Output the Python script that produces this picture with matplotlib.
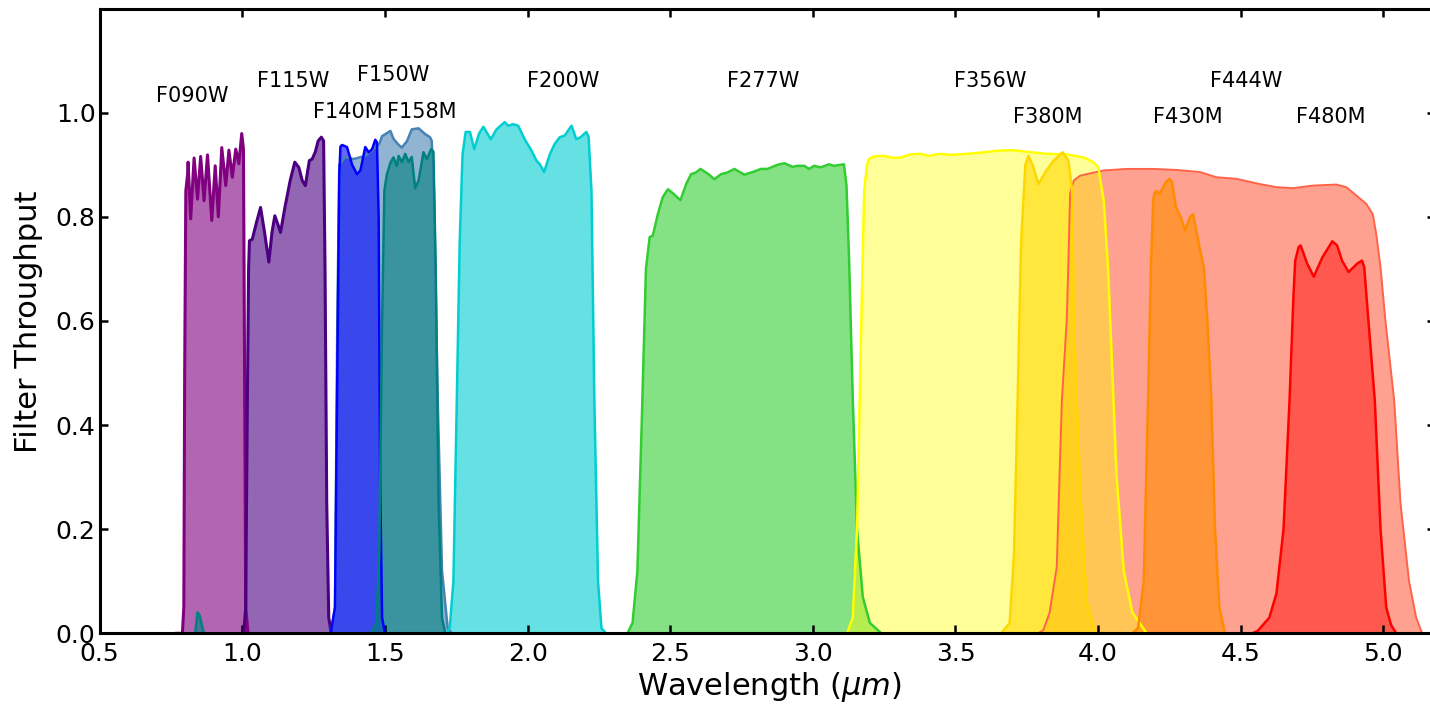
import matplotlib
matplotlib.use('Agg')
import matplotlib.pyplot as plt

# NIRCam filter throughput curves (wavelength in micron, throughput)
f090w_wl = [0.770, 0.790, 0.795, 0.798, 0.802, 0.808, 0.810, 0.819, 0.831, 0.843, 0.854, 0.866, 0.878,
            0.893, 0.905, 0.916, 0.928, 0.942, 0.953, 0.965, 0.977, 0.988, 0.998, 1.004, 1.008, 1.012, 1.020]
f090w_tp = [0.0, 0.0, 0.05, 0.50, 0.85, 0.88, 0.905, 0.796, 0.913, 0.834, 0.916, 0.831, 0.919,
            0.793, 0.898, 0.800, 0.933, 0.860, 0.928, 0.876, 0.930, 0.902, 0.960, 0.930, 0.500, 0.050, 0.0]

f115w_wl = [1.005, 1.012, 1.017, 1.022, 1.025, 1.035, 1.050, 1.064, 1.078, 1.093, 1.104, 1.114, 1.125,
            1.134, 1.150, 1.168, 1.184, 1.198, 1.210, 1.221, 1.235, 1.245, 1.256, 1.266, 1.277, 1.285,
            1.290, 1.296, 1.303, 1.312]
f115w_tp = [0.0, 0.05, 0.40, 0.70, 0.754, 0.757, 0.790, 0.818, 0.770, 0.713, 0.770, 0.802, 0.785,
            0.770, 0.820, 0.870, 0.905, 0.895, 0.870, 0.860, 0.908, 0.911, 0.925, 0.946, 0.953, 0.946,
            0.700, 0.250, 0.030, 0.0]

f150w_wl = [1.310, 1.325, 1.333, 1.340, 1.360, 1.390, 1.431, 1.460, 1.480, 1.490, 1.505, 1.519, 1.530,
            1.545, 1.559, 1.577, 1.594, 1.618, 1.641, 1.658, 1.664, 1.672, 1.685, 1.700, 1.720, 1.735]
f150w_tp = [0.0, 0.05, 0.60, 0.90, 0.915, 0.911, 0.917, 0.930, 0.940, 0.955, 0.960, 0.965, 0.950,
            0.940, 0.933, 0.945, 0.968, 0.970, 0.959, 0.953, 0.946, 0.850, 0.450, 0.120, 0.010, 0.0]

f140m_wl = [1.310, 1.325, 1.333, 1.340, 1.344, 1.350, 1.367, 1.385, 1.402, 1.414, 1.431, 1.443, 1.455,
            1.466, 1.472, 1.478, 1.483, 1.490, 1.500]
f140m_tp = [0.0, 0.05, 0.50, 0.88, 0.935, 0.938, 0.934, 0.900, 0.882, 0.889, 0.934, 0.924, 0.930,
            0.948, 0.943, 0.800, 0.300, 0.030, 0.0]

f158m_wl = [0.820, 0.835, 0.843, 0.850, 0.865, 1.450, 1.470, 1.480, 1.490, 1.498, 1.507, 1.520, 1.530,
            1.542, 1.548, 1.560, 1.571, 1.583, 1.594, 1.606, 1.618, 1.635, 1.647, 1.662, 1.670, 1.678,
            1.688, 1.700, 1.712]
f158m_tp = [0.0, 0.0, 0.040, 0.035, 0.0, 0.0, 0.020, 0.150, 0.600, 0.850, 0.882, 0.905, 0.914,
            0.898, 0.917, 0.905, 0.921, 0.905, 0.915, 0.855, 0.870, 0.924, 0.911, 0.930, 0.925, 0.700,
            0.250, 0.030, 0.0]

f200w_wl = [1.715, 1.727, 1.740, 1.752, 1.762, 1.772, 1.783, 1.798, 1.813, 1.830, 1.845, 1.871, 1.891,
            1.920, 1.932, 1.950, 1.967, 1.990, 2.014, 2.031, 2.043, 2.058, 2.078, 2.095, 2.113, 2.130,
            2.154, 2.171, 2.186, 2.206, 2.214, 2.224, 2.234, 2.247, 2.259, 2.275]
f200w_tp = [0.0, 0.010, 0.100, 0.450, 0.750, 0.920, 0.963, 0.963, 0.930, 0.960, 0.973, 0.949, 0.968,
            0.982, 0.975, 0.978, 0.975, 0.949, 0.927, 0.908, 0.901, 0.886, 0.920, 0.940, 0.953, 0.956,
            0.975, 0.949, 0.953, 0.963, 0.953, 0.850, 0.450, 0.100, 0.010, 0.0]

f277w_wl = [2.350, 2.368, 2.385, 2.400, 2.415, 2.428, 2.439, 2.457, 2.474, 2.492, 2.510, 2.536, 2.556,
            2.573, 2.590, 2.606, 2.634, 2.655, 2.678, 2.700, 2.725, 2.760, 2.789, 2.818, 2.841, 2.876,
            2.900, 2.929, 2.946, 2.970, 2.987, 3.004, 3.028, 3.057, 3.074, 3.098, 3.109, 3.118, 3.127,
            3.140, 3.155, 3.175, 3.200, 3.240]
f277w_tp = [0.0, 0.020, 0.120, 0.400, 0.700, 0.761, 0.764, 0.806, 0.838, 0.853, 0.845, 0.832, 0.863,
            0.882, 0.885, 0.892, 0.882, 0.872, 0.882, 0.885, 0.892, 0.881, 0.886, 0.892, 0.892, 0.900,
            0.903, 0.896, 0.898, 0.898, 0.892, 0.898, 0.895, 0.901, 0.898, 0.900, 0.901, 0.860, 0.720,
            0.450, 0.200, 0.070, 0.020, 0.0]

f356w_wl = [3.120, 3.140, 3.155, 3.168, 3.180, 3.190, 3.197, 3.214, 3.249, 3.284, 3.308, 3.343, 3.378,
            3.407, 3.442, 3.483, 3.541, 3.599, 3.646, 3.704, 3.750, 3.820, 3.890, 3.949, 3.983, 4.001,
            4.020, 4.035, 4.050, 4.065, 4.090, 4.120, 4.170]
f356w_tp = [0.0, 0.030, 0.200, 0.550, 0.850, 0.900, 0.911, 0.916, 0.917, 0.913, 0.914, 0.920, 0.921,
            0.917, 0.921, 0.919, 0.921, 0.924, 0.927, 0.928, 0.925, 0.921, 0.920, 0.914, 0.905, 0.895,
            0.830, 0.700, 0.500, 0.300, 0.120, 0.040, 0.0]

f380m_wl = [3.660, 3.690, 3.705, 3.718, 3.730, 3.745, 3.756, 3.770, 3.791, 3.815, 3.844, 3.876, 3.896,
            3.909, 3.915, 3.925, 3.940, 3.960, 3.990]
f380m_tp = [0.0, 0.020, 0.150, 0.450, 0.750, 0.900, 0.917, 0.900, 0.863, 0.886, 0.908, 0.924, 0.908,
            0.850, 0.600, 0.450, 0.250, 0.060, 0.0]

f444w_wl = [3.790, 3.808, 3.830, 3.855, 3.873, 3.890, 3.896, 3.902, 3.915, 3.937, 3.960, 4.018, 4.100,
            4.193, 4.275, 4.357, 4.415, 4.485, 4.566, 4.625, 4.683, 4.753, 4.835, 4.870, 4.905, 4.940,
            4.963, 4.975, 4.990, 5.007, 5.038, 5.060, 5.090, 5.115, 5.136]
f444w_tp = [0.0, 0.006, 0.040, 0.127, 0.447, 0.601, 0.716, 0.845, 0.870, 0.879, 0.882, 0.889, 0.892,
            0.892, 0.890, 0.886, 0.876, 0.873, 0.863, 0.857, 0.855, 0.860, 0.862, 0.857, 0.841, 0.825,
            0.805, 0.767, 0.703, 0.601, 0.447, 0.250, 0.100, 0.030, 0.0]

f430m_wl = [4.120, 4.140, 4.160, 4.175, 4.185, 4.193, 4.197, 4.204, 4.215, 4.238, 4.250, 4.259, 4.273,
            4.290, 4.305, 4.322, 4.333, 4.344, 4.360, 4.371, 4.377, 4.383, 4.397, 4.410, 4.425, 4.445]
f430m_tp = [0.0, 0.010, 0.100, 0.447, 0.700, 0.830, 0.844, 0.850, 0.844, 0.867, 0.873, 0.867, 0.818,
            0.799, 0.774, 0.799, 0.805, 0.774, 0.729, 0.703, 0.652, 0.601, 0.447, 0.200, 0.050, 0.0]

f480m_wl = [4.540, 4.560, 4.600, 4.625, 4.650, 4.671, 4.685, 4.691, 4.703, 4.710, 4.733, 4.756, 4.786,
            4.821, 4.838, 4.855, 4.878, 4.908, 4.925, 4.933, 4.943, 4.955, 4.970, 4.990, 5.010, 5.027,
            5.045]
f480m_tp = [0.0, 0.005, 0.030, 0.076, 0.200, 0.447, 0.650, 0.716, 0.742, 0.745, 0.710, 0.685, 0.722,
            0.753, 0.745, 0.716, 0.694, 0.710, 0.716, 0.703, 0.632, 0.550, 0.447, 0.200, 0.050, 0.016,
            0.0]

# name, wavelengths, throughput, colour, fill alpha, line width, label position
filters = [
    ('F090W', f090w_wl, f090w_tp, 'purple', 0.6, 2.2, (0.825, 1.033)),
    ('F115W', f115w_wl, f115w_tp, 'indigo', 0.6, 2.2, (1.180, 1.061)),
    ('F150W', f150w_wl, f150w_tp, 'steelblue', 0.6, 1.8, (1.528, 1.073)),
    ('F140M', f140m_wl, f140m_tp, 'blue', 0.6, 1.8, (1.370, 1.002)),
    ('F158M', f158m_wl, f158m_tp, 'teal', 0.6, 1.8, (1.630, 1.002)),
    ('F200W', f200w_wl, f200w_tp, 'darkturquoise', 0.6, 1.8, (2.126, 1.061)),
    ('F277W', f277w_wl, f277w_tp, 'limegreen', 0.6, 1.8, (2.825, 1.061)),
    ('F444W', f444w_wl, f444w_tp, 'tomato', 0.6, 1.4, (4.520, 1.061)),
    ('F356W', f356w_wl, f356w_tp, 'yellow', 0.4, 1.8, (3.622, 1.061)),
    ('F380M', f380m_wl, f380m_tp, 'gold', 0.6, 1.8, (3.822, 0.992)),
    ('F430M', f430m_wl, f430m_tp, 'darkorange', 0.6, 1.8, (4.315, 0.992)),
    ('F480M', f480m_wl, f480m_tp, 'red', 0.45, 1.8, (4.815, 0.992)),
]

fig = plt.figure(figsize=(14.3, 7.04), dpi=100)
ax = fig.add_axes([0.0697, 0.1004, 0.9336, 0.8874])

for name, wl, tp, col, alp, lw, pos in filters:
    ax.fill_between(wl, 0, tp, color=col, alpha=alp, linewidth=0)
    ax.plot(wl, tp, color=col, linewidth=lw)
    ax.text(pos[0], pos[1], name, fontsize=15, ha='center', va='center')

ax.set_xlim(0.5, 5.18)
ax.set_ylim(0, 1.2)
ax.set_xticks([0.5, 1.0, 1.5, 2.0, 2.5, 3.0, 3.5, 4.0, 4.5, 5.0])
ax.set_yticks([0.0, 0.2, 0.4, 0.6, 0.8, 1.0])
ax.set_xticklabels(['0.5', '1.0', '1.5', '2.0', '2.5', '3.0', '3.5', '4.0', '4.5', '5.0'])
ax.set_yticklabels(['0.0', '0.2', '0.4', '0.6', '0.8', '1.0'])
ax.tick_params(direction='in', top=True, right=True, length=6, width=1.8, labelsize=18)
ax.tick_params(axis='x', pad=6)
ax.tick_params(axis='y', pad=3)
for sp in ax.spines.values():
    sp.set_linewidth(2.2)

ax.set_xlabel(r'Wavelength ($\mu m$)', fontsize=22)
ax.set_ylabel('Filter Throughput', fontsize=22)
ax.yaxis.set_label_coords(-0.0425, 0.498)
ax.xaxis.set_label_coords(0.502, -0.058)

fig.savefig('out.png', dpi=100)
plt.close()
